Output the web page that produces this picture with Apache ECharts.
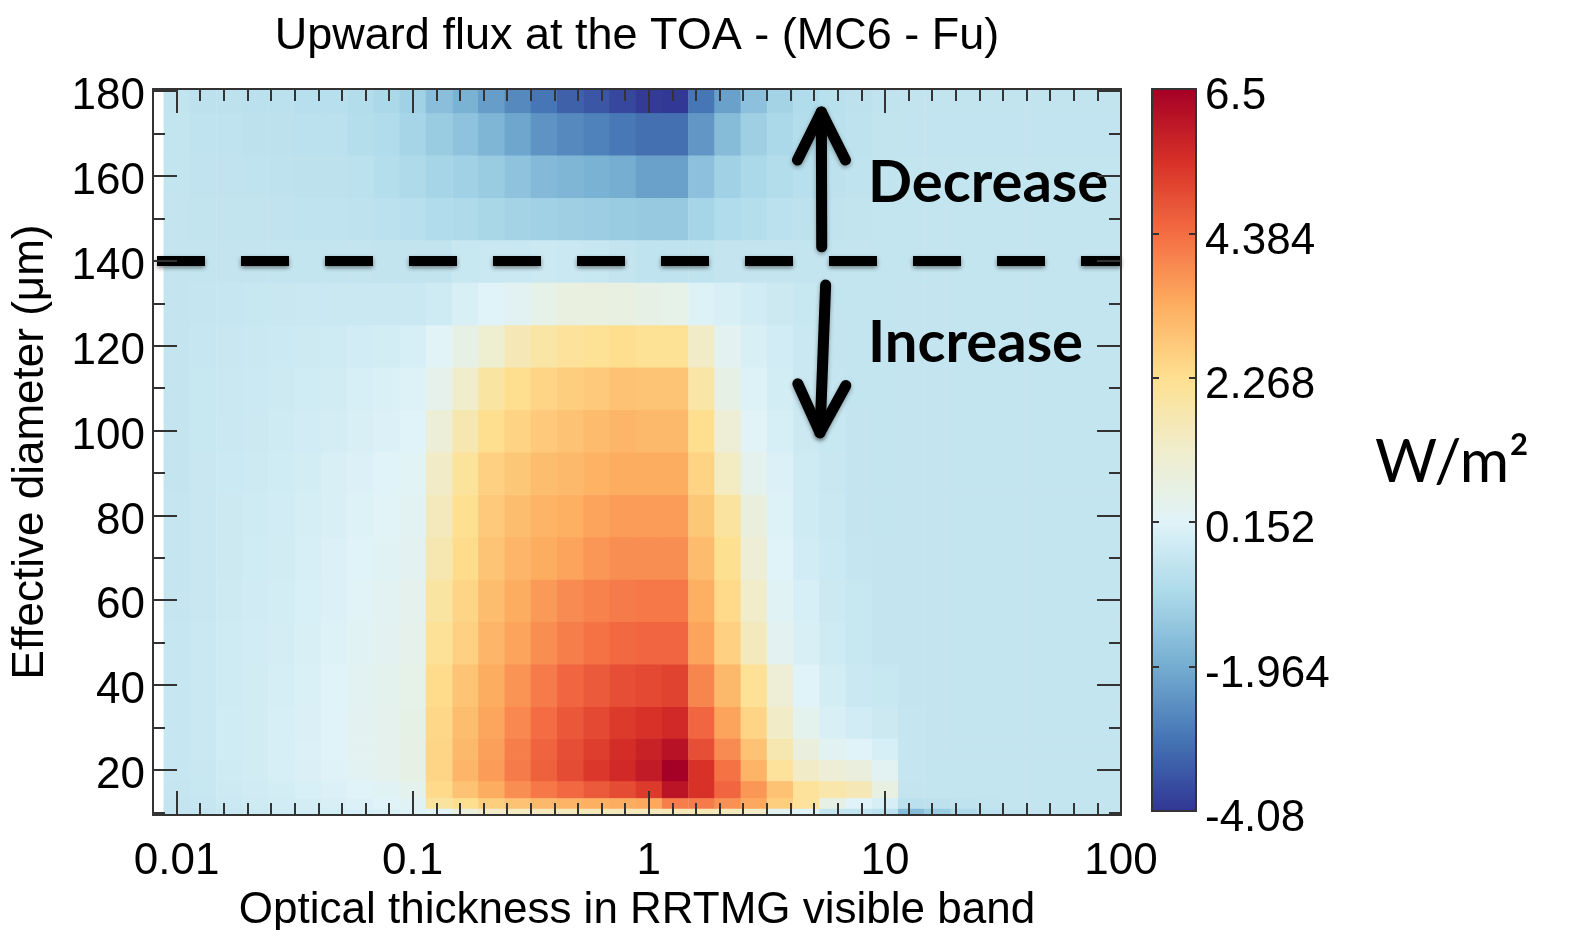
<!DOCTYPE html>
<html>
<head>
<meta charset="utf-8">
<script src="https://cdn.jsdelivr.net/npm/echarts@6/dist/echarts.min.js"></script>
<style>
html, body { margin: 0; background: #fff; }
#main { width: 1574px; height: 930px; }
</style>
</head>
<body>
<div id="main"></div>
<script>
// optical thickness at the column centres (9 columns per decade)
var tau = [0.01, 0.0129, 0.0167, 0.0215, 0.0278, 0.0359, 0.0464, 0.0599, 0.0774,
  0.1, 0.129, 0.167, 0.215, 0.278, 0.359, 0.464, 0.599, 0.774,
  1, 1.29, 1.67, 2.15, 2.78, 3.59, 4.64, 5.99, 7.74,
  10, 12.9, 16.7, 21.5, 27.8, 35.9, 46.4, 59.9, 77.4, 100];

// effective diameter (um) at the row centres
var diameters = [10, 12, 15, 20, 25, 30, 40, 50, 60, 70, 80, 90, 100, 110, 120, 130, 140, 150, 160, 170, 180];

// flux difference MC6 - Fu (W/m2), one row per diameter, one value per tau
var flux = [
  /* 10 */ [-0.42,-0.4,-0.32,-0.26,-0.2,-0.15,-0.1,-0.05,0,0.1, 0.2,0.8,1.3,1.4,1.5,1.5,1.5,1.5,1.5,1.6,1.6,1.5,1.3,0.3,0.15,-0.4,-0.45,-0.6, -1.6,-1.25,-0.85,-0.6,-0.5,-0.45,-0.42,-0.42,-0.42],
  /* 12 */ [-0.4,-0.36,-0.26,-0.2,-0.14,-0.08,0,0.08,0.15,0.25, 2,2.3,2.65,2.9,3.1,3.2,3.3,3.35,3.4,4.1,4.15,3.8,3.4,2.65,2.1,0.6,0.15,-0.05, -0.6,-0.55,-0.5,-0.45,-0.42,-0.42,-0.42,-0.42,-0.42],
  /* 15 */ [-0.38,-0.34,-0.22,-0.16,-0.1,-0.02,0.05,0.15,0.25,0.4, 2.4,2.9,3.35,3.85,4.2,4.45,4.7,4.95,5.25,6.05,5.4,4.5,3.7,2.9,2.1,1.8,1.6,0.7, -0.4,-0.42,-0.42,-0.42,-0.42,-0.42,-0.42,-0.42,-0.42],
  /* 20 */ [-0.36,-0.32,-0.2,-0.12,-0.05,0.03,0.12,0.3,0.45,0.6, 2.5,3.15,3.6,4.15,4.6,4.95,5.3,5.6,5.9,6.5,5.4,4.3,3.2,2.1,1.3,1,0.8,0.3, -0.38,-0.42,-0.42,-0.42,-0.42,-0.42,-0.42,-0.42,-0.42],
  /* 25 */ [-0.36,-0.3,-0.18,-0.12,-0.04,0.05,0.15,0.32,0.45,0.6, 2.5,3.1,3.55,4.1,4.55,4.9,5.2,5.5,5.75,6.1,4.9,3.9,2.9,1.7,0.8,0.3,0.15,-0.05, -0.38,-0.4,-0.42,-0.42,-0.42,-0.42,-0.42,-0.42,-0.42],
  /* 30 */ [-0.36,-0.3,-0.18,-0.12,-0.05,0.04,0.15,0.32,0.45,0.58, 2.45,3,3.45,3.95,4.4,4.75,5,5.25,5.4,5.6,4.5,3.5,2.5,1.3,0.4,0,-0.15,-0.25, -0.38,-0.4,-0.42,-0.42,-0.42,-0.42,-0.42,-0.42,-0.42],
  /* 40 */ [-0.36,-0.3,-0.2,-0.12,-0.06,0.02,0.14,0.3,0.4,0.55, 2.35,2.85,3.35,3.75,4.15,4.5,4.7,4.9,5,5.1,4,3.1,2.15,1,0.15,-0.1,-0.3,-0.35, -0.4,-0.4,-0.42,-0.42,-0.42,-0.42,-0.42,-0.42,-0.42],
  /* 50 */ [-0.36,-0.3,-0.2,-0.14,-0.08,0,0.1,0.25,0.35,0.5, 2.15,2.6,3.15,3.5,3.85,4.1,4.3,4.45,4.5,4.5,3.5,2.6,1.5,0.35,0,-0.2,-0.35,-0.4, -0.4,-0.4,-0.42,-0.42,-0.42,-0.42,-0.42,-0.42,-0.42],
  /* 60 */ [-0.38,-0.32,-0.22,-0.16,-0.1,-0.02,0.08,0.2,0.3,0.42, 1.95,2.5,3,3.35,3.65,3.9,4.05,4.15,4.2,4.2,3.3,2.4,1.25,0.25,-0.05,-0.25,-0.35,-0.4, -0.4,-0.4,-0.42,-0.42,-0.42,-0.42,-0.42,-0.42,-0.42],
  /* 70 */ [-0.38,-0.32,-0.24,-0.18,-0.12,-0.05,0.05,0.15,0.25,0.35, 1.7,2.35,2.85,3.15,3.35,3.5,3.7,3.85,3.85,3.85,3.05,2.25,1,0.15,-0.15,-0.27,-0.38,-0.4, -0.4,-0.4,-0.42,-0.42,-0.42,-0.42,-0.42,-0.42,-0.42],
  /* 80 */ [-0.38,-0.32,-0.25,-0.2,-0.15,-0.07,0,0.1,0.2,0.3, 1.5,2.25,2.75,3,3.2,3.3,3.5,3.6,3.6,3.6,2.8,2,0.8,0.1,-0.2,-0.3,-0.4,-0.42, -0.4,-0.4,-0.42,-0.42,-0.42,-0.42,-0.42,-0.42,-0.42],
  /* 90 */ [-0.4,-0.33,-0.27,-0.22,-0.18,-0.1,-0.03,0.05,0.15,0.22, 1.3,2.05,2.6,2.8,3,3.1,3.25,3.35,3.35,3.35,2.55,1.4,0.45,0.05,-0.2,-0.32,-0.4,-0.42, -0.4,-0.4,-0.42,-0.42,-0.42,-0.42,-0.42,-0.42,-0.42],
  /* 100 */ [-0.4,-0.34,-0.28,-0.24,-0.2,-0.14,-0.08,0,0.08,0.15, 0.95,1.7,2.3,2.55,2.75,2.9,3.05,3.15,3.1,3.1,2.3,1,0.2,-0.05,-0.25,-0.35,-0.4,-0.42, -0.4,-0.4,-0.42,-0.42,-0.42,-0.42,-0.42,-0.42,-0.42],
  /* 110 */ [-0.4,-0.35,-0.3,-0.27,-0.22,-0.18,-0.12,-0.05,0.02,0.1, 0.5,1.2,1.95,2.3,2.5,2.65,2.75,2.9,2.85,2.85,1.9,0.6,0.1,-0.1,-0.3,-0.38,-0.42,-0.42, -0.4,-0.4,-0.42,-0.42,-0.42,-0.42,-0.42,-0.42,-0.42],
  /* 120 */ [-0.4,-0.36,-0.33,-0.3,-0.26,-0.22,-0.2,-0.15,-0.1,-0.05, 0.2,0.6,1.1,1.6,1.9,2.1,2.2,2.3,2.2,2.2,1.3,0.35,0,-0.15,-0.3,-0.4,-0.42,-0.42, -0.4,-0.4,-0.42,-0.42,-0.42,-0.42,-0.42,-0.42,-0.42],
  /* 130 */ [-0.4,-0.38,-0.36,-0.34,-0.32,-0.3,-0.3,-0.28,-0.28,-0.3, -0.2,0,0.15,0.3,0.55,0.75,0.75,0.7,0.6,0.55,0.1,0,-0.15,-0.25,-0.35,-0.42,-0.42,-0.42, -0.4,-0.4,-0.42,-0.42,-0.42,-0.42,-0.42,-0.42,-0.42],
  /* 140 */ [-0.4,-0.42,-0.4,-0.4,-0.42,-0.42,-0.42,-0.42,-0.45,-0.45, -0.45,-0.35,-0.3,-0.28,-0.25,-0.3,-0.35,-0.4,-0.5,-0.5,-0.5,-0.4,-0.4,-0.4,-0.42,-0.42,-0.42,-0.42, -0.42,-0.42,-0.42,-0.42,-0.42,-0.42,-0.42,-0.42,-0.42],
  /* 150 */ [-0.4,-0.45,-0.45,-0.45,-0.48,-0.5,-0.5,-0.52,-0.58,-0.65, -0.8,-0.85,-0.95,-1.05,-1.1,-1.15,-1.2,-1.25,-1.3,-1.3,-1,-0.8,-0.7,-0.6,-0.55,-0.48,-0.45,-0.42, -0.42,-0.42,-0.42,-0.42,-0.42,-0.42,-0.42,-0.42,-0.42],
  /* 160 */ [-0.42,-0.48,-0.48,-0.5,-0.52,-0.55,-0.55,-0.6,-0.7,-0.85, -1,-1.1,-1.25,-1.45,-1.65,-1.75,-1.85,-1.95,-2.2,-2.2,-1.5,-1.1,-0.9,-0.75,-0.65,-0.55,-0.5,-0.45, -0.43,-0.43,-0.43,-0.43,-0.43,-0.43,-0.43,-0.43,-0.43],
  /* 170 */ [-0.42,-0.5,-0.5,-0.55,-0.55,-0.6,-0.6,-0.7,-0.8,-1, -1.25,-1.45,-1.75,-2.1,-2.45,-2.65,-2.8,-2.95,-3.1,-3.1,-2.4,-1.6,-1.15,-0.9,-0.75,-0.6,-0.52,-0.45, -0.44,-0.44,-0.44,-0.44,-0.44,-0.44,-0.44,-0.44,-0.44],
  /* 180 */ [-0.45,-0.55,-0.55,-0.6,-0.6,-0.65,-0.65,-0.75,-0.9,-1.1, -1.55,-1.85,-2.25,-2.65,-3,-3.35,-3.55,-3.8,-4,-4.05,-3,-2.2,-1.5,-1.05,-0.8,-0.62,-0.55,-0.48, -0.45,-0.45,-0.45,-0.45,-0.45,-0.45,-0.45,-0.45,-0.45]
];

var xTickValues = [0.01, 0.1, 1, 10, 100];
var xTickLabels = ['0.01', '0.1', '1', '10', '100'];
var yMajorTicks = [20, 40, 60, 80, 100, 120, 140, 160, 180];
var yMinorTicks = [10, 30, 50, 70, 90, 110, 130, 150, 170];
var barTicks = [-4.08, -1.964, 0.152, 2.268, 4.384, 6.5];
var barLabels = ['-4.08', '-1.964', '0.152', '2.268', '4.384', '6.5'];
var boundary = 140;
// arrows: [tau start, diameter start, tau tip, diameter tip]
var arrows = [
  [5.40, 143.3, 5.38, 175.1],
  [5.61, 134.3, 5.31, 99.5]
];

var colors = ['#313695', '#4575b4', '#74add1', '#abd9e9', '#e0f3f8', '#f0edcc',
  '#fee090', '#fdae61', '#f46d43', '#d73027', '#a50026'];

// cells in log10(tau) / diameter space
var logTau = tau.map(function (t) { return Math.log10(t); });
var half = (logTau[1] - logTau[0]) / 2;
var cells = [];
for (var i = 0; i < diameters.length; i++) {
  var d = diameters[i];
  var lo = i === 0 ? d - (diameters[1] - d) / 2 : (diameters[i - 1] + d) / 2;
  var hi = i === diameters.length - 1 ? d + (d - diameters[i - 1]) / 2 : (d + diameters[i + 1]) / 2;
  for (var j = 0; j < logTau.length; j++) {
    cells.push([logTau[j] - half, logTau[j] + half, lo, hi, flux[i][j]]);
  }
}
var arrowData = arrows.map(function (a) {
  return [Math.log10(a[0]), a[1], Math.log10(a[2]), a[3]];
});
var xMajor = xTickValues.map(function (t) { return Math.log10(t); });

var axisColor = '#333';
var font = 'Liberation Sans';
var labelStyle = { fontFamily: font, fontSize: 44, color: '#000' };
var lineSt = { color: axisColor, width: 2 };

function xAx(opt) {
  return Object.assign({
    type: 'value', gridIndex: 0, min: -2.1, max: 2, z: 10,
    axisLine: { show: true, onZero: false, lineStyle: lineSt },
    axisTick: { show: true, inside: true, length: 12, lineStyle: lineSt },
    axisLabel: { show: false },
    splitLine: { show: false }
  }, opt);
}
function yAx(opt) {
  return Object.assign({
    type: 'value', gridIndex: 0, min: 9.36, max: 180.52, z: 10,
    axisLine: { show: true, onZero: false, lineStyle: lineSt },
    axisTick: { show: true, inside: true, length: 12, customValues: yMinorTicks, lineStyle: lineSt },
    axisLabel: { show: false },
    splitLine: { show: false }
  }, opt);
}

var chart = echarts.init(document.getElementById('main'), null, { renderer: 'canvas' });
chart.setOption({
  animation: false,
  backgroundColor: '#fff',
  grid: [
    { left: 153, top: 89, width: 968, height: 726, outerBoundsMode: 'none', containLabel: false },
    { left: 1152, top: 89, width: 44, height: 722, outerBoundsMode: 'none', containLabel: false }
  ],
  xAxis: [
    xAx({ position: 'bottom', interval: 0.1 }),
    xAx({
      position: 'bottom', axisLine: { show: false, onZero: false },
      axisTick: { show: true, inside: true, length: 24, customValues: xMajor, lineStyle: lineSt },
      axisLabel: {
        show: true, customValues: xMajor, margin: 25, fontFamily: font, fontSize: 44, color: '#000',
        formatter: function (v) { return xTickLabels[Math.round(v) + 2]; }
      },
      name: 'Optical thickness in RRTMG visible band', nameLocation: 'middle', nameGap: 72,
      nameTextStyle: labelStyle
    }),
    xAx({ position: 'top', interval: 0.1 }),
    xAx({
      position: 'top', axisLine: { show: false, onZero: false },
      axisTick: { show: true, inside: true, length: 24, customValues: xMajor, lineStyle: lineSt }
    }),
    {
      type: 'value', gridIndex: 1, position: 'bottom', min: 0, max: 1, z: 10,
      axisLine: { show: true, onZero: false, lineStyle: lineSt },
      axisTick: { show: false }, axisLabel: { show: false }, splitLine: { show: false }
    },
    {
      type: 'value', gridIndex: 1, position: 'top', min: 0, max: 1, z: 10,
      axisLine: { show: true, onZero: false, lineStyle: lineSt },
      axisTick: { show: false }, axisLabel: { show: false }, splitLine: { show: false }
    }
  ],
  yAxis: [
    yAx({ position: 'left' }),
    yAx({
      position: 'left', axisLine: { show: false, onZero: false },
      axisTick: { show: true, inside: true, length: 24, customValues: yMajorTicks, lineStyle: lineSt },
      axisLabel: {
        show: true, customValues: yMajorTicks, margin: 8, fontFamily: font, fontSize: 44, color: '#000',
        verticalAlign: 'top', lineHeight: 12
      },
      name: 'Effective diameter (μm)', nameLocation: 'middle', nameGap: 100, nameRotate: 90,
      nameTextStyle: labelStyle
    }),
    yAx({ position: 'right' }),
    yAx({
      position: 'right', axisLine: { show: false, onZero: false },
      axisTick: { show: true, inside: true, length: 24, customValues: yMajorTicks, lineStyle: lineSt }
    }),
    {
      type: 'value', gridIndex: 1, position: 'left', min: -4.08, max: 6.5, z: 10,
      axisLine: { show: true, onZero: false, lineStyle: lineSt },
      axisTick: { show: true, inside: true, length: 7, customValues: barTicks, lineStyle: lineSt },
      axisLabel: { show: false }, splitLine: { show: false }
    },
    {
      type: 'value', gridIndex: 1, position: 'right', min: -4.08, max: 6.5, z: 10,
      axisLine: { show: true, onZero: false, lineStyle: lineSt },
      axisTick: { show: true, inside: true, length: 7, customValues: barTicks, lineStyle: lineSt },
      axisLabel: {
        show: true, customValues: barTicks, margin: 9, fontFamily: font, fontSize: 44, color: '#000',
        verticalAlign: 'top', lineHeight: 16,
        formatter: function (v) { return barLabels[barTicks.indexOf(v)]; }
      },
      splitLine: { show: false }
    }
  ],
  visualMap: {
    type: 'continuous', seriesIndex: 0, dimension: 4,
    min: -4.08, max: 6.5, calculable: false, realtime: false,
    left: 1152, top: 89, itemWidth: 44, itemHeight: 722, padding: 0,
    text: null, showLabel: false, hoverLink: false,
    inRange: { color: colors }
  },
  series: [
    {
      type: 'custom', name: 'flux', xAxisIndex: 0, yAxisIndex: 0,
      data: cells, encode: { x: [0, 1], y: [2, 3] }, clip: true, silent: true,
      renderItem: function (params, api) {
        var p0 = api.coord([api.value(0), api.value(3)]);
        var p1 = api.coord([api.value(1), api.value(2)]);
        var cs = params.coordSys;
        var rect = echarts.graphic.clipRectByRect(
          { x: p0[0], y: p0[1], width: p1[0] - p0[0] + 0.7, height: p1[1] - p0[1] + 0.7 },
          { x: cs.x, y: cs.y, width: cs.width, height: cs.height }
        );
        return rect && { type: 'rect', shape: rect, style: { fill: api.visual('color') } };
      }
    },
    {
      type: 'custom', name: 'annotations', xAxisIndex: 0, yAxisIndex: 0, z: 5,
      data: arrowData, encode: { x: [0, 2], y: [1, 3] }, silent: true,
      renderItem: function (params, api) {
        var a = api.coord([api.value(0), api.value(1)]);
        var b = api.coord([api.value(2), api.value(3)]);
        var dx = b[0] - a[0], dy = b[1] - a[1];
        var len = Math.sqrt(dx * dx + dy * dy);
        var ux = dx / len, uy = dy / len;
        var hx = b[0] - ux * 48, hy = b[1] - uy * 48;
        var st = {
          stroke: '#000', fill: null, lineWidth: 11, lineCap: 'round', lineJoin: 'round',
          shadowBlur: 4, shadowColor: 'rgba(0,0,0,0.35)', shadowOffsetY: 2
        };
        return {
          type: 'group', children: [
            { type: 'polyline', shape: { points: [a, b] }, style: st },
            { type: 'polyline', shape: { points: [[hx - uy * 24, hy + ux * 24], b, [hx + uy * 24, hy - ux * 24]] }, style: st }
          ]
        };
      },
      markLine: {
        silent: true, symbol: 'none', label: { show: false },
        lineStyle: {
          color: '#000', width: 10, type: [48, 36], dashOffset: -4,
          shadowBlur: 4, shadowColor: 'rgba(0,0,0,0.45)', shadowOffsetY: 2
        },
        emphasis: { disabled: true },
        data: [{ yAxis: boundary }]
      }
    }
  ],
  graphic: [
    {
      type: 'text', x: 637, y: 37, silent: true,
      style: { text: 'Upward flux at the TOA - (MC6 - Fu)', font: '45px "Liberation Sans"', fill: '#000', align: 'center', verticalAlign: 'middle' }
    },
    {
      type: 'text', x: 868, y: 183, z: 10, silent: true,
      style: { text: 'Decrease', font: 'bold 58px Lato', fill: '#000', align: 'left', verticalAlign: 'middle' }
    },
    {
      type: 'text', x: 868, y: 343, z: 10, silent: true,
      style: { text: 'Increase', font: 'bold 58px Lato', fill: '#000', align: 'left', verticalAlign: 'middle' }
    },
    {
      type: 'text', x: 1375, y: 463, silent: true,
      style: { text: 'W/m²', font: '60px Lato', fill: '#000', align: 'left', verticalAlign: 'middle' }
    }
  ]
});
</script>
</body>
</html>
